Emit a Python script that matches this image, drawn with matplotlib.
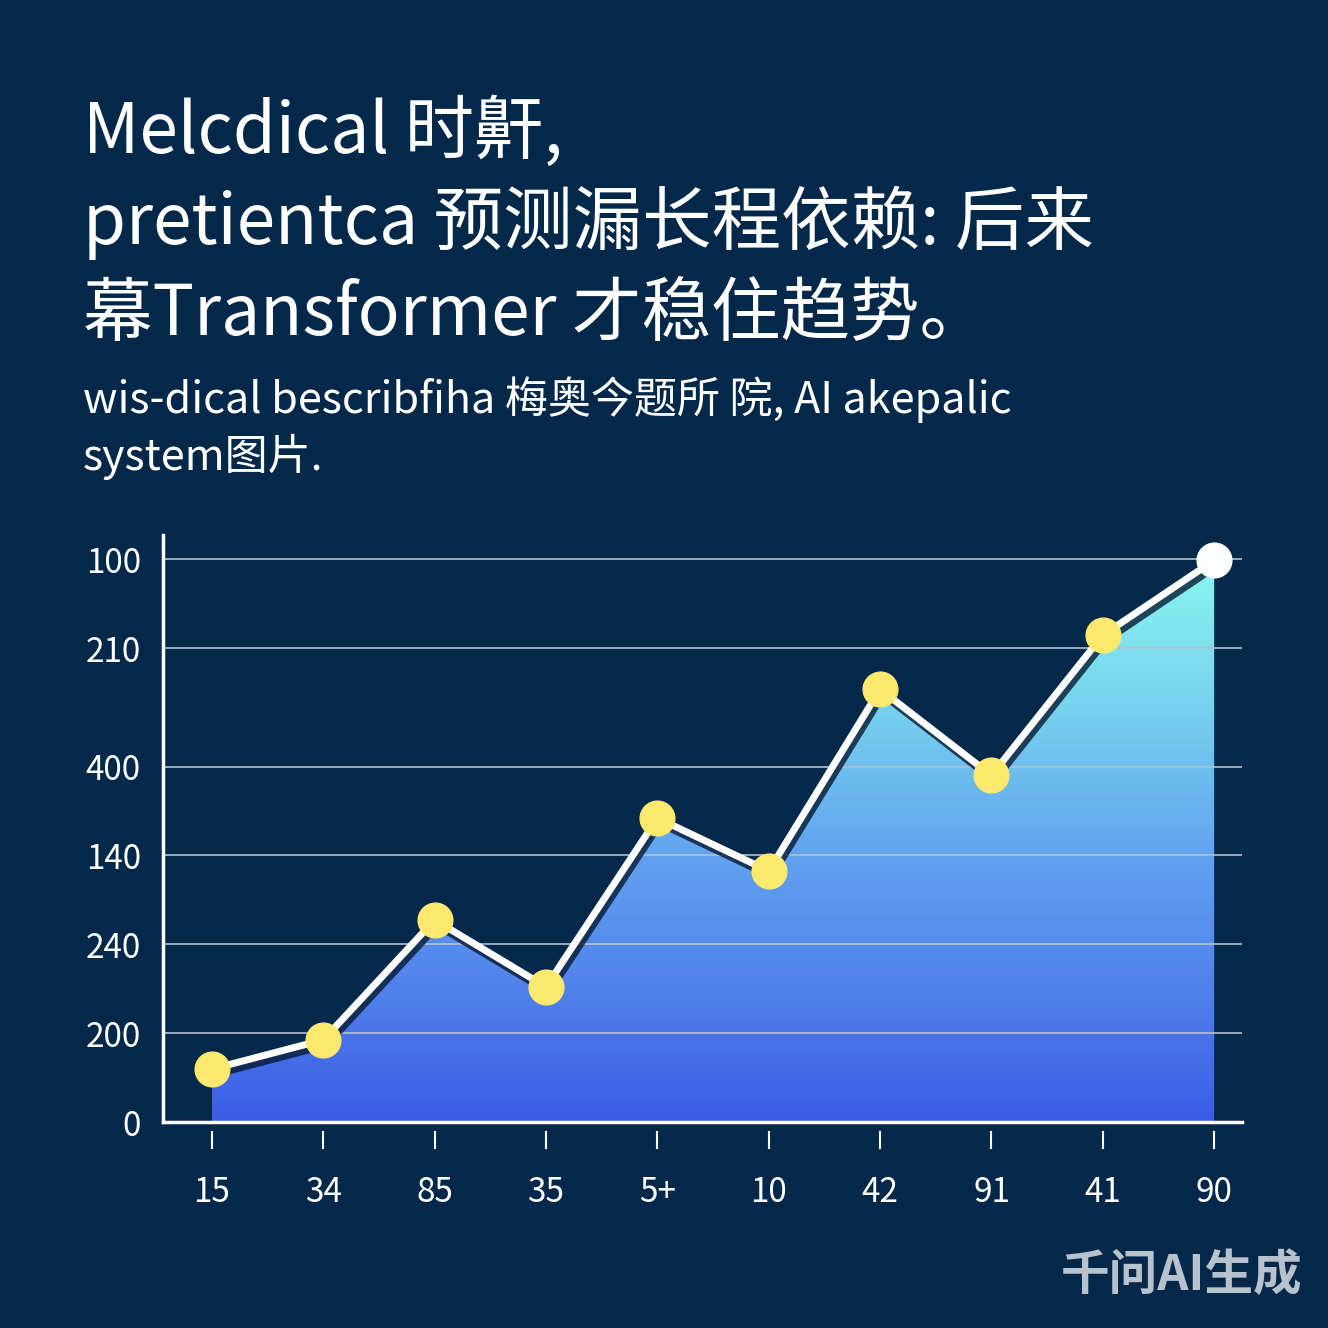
import numpy as np
import matplotlib.pyplot as plt
from matplotlib.colors import LinearSegmentedColormap
from matplotlib.path import Path
from matplotlib.patches import PathPatch
import matplotlib.patheffects as pe

plt.rcParams['font.family'] = ['Noto Sans CJK SC', 'DejaVu Sans']

# data
x_labels = ["15", "34", "85", "35", "5+", "10", "42", "91", "41", "90"]
values = [9.4, 14.6, 35.9, 24.0, 54.0, 44.6, 76.9, 61.6, 86.5, 99.8]
y_tick_pos = [0, 15.8, 31.6, 47.4, 63.1, 84.2, 100]
y_tick_labels = ["0", "200", "240", "140", "400", "210", "100"]

title_lines = ["Melcdical 时鼾,",
               "pretientca 预测漏长程依赖: 后来",
               "幕Transformer 才稳住趋势。"]
subtitle_lines = ["wis-dical bescribfiha 梅奥今题所 院, AI akepalic",
                  "system图片."]

bg = "#03284a"
fig = plt.figure(figsize=(13.28, 13.28), dpi=100, facecolor=bg)

for i, line in enumerate(title_lines):
    fig.text(83 / 1328, 1 - (153 + i * 91) / 1328, line, color="white",
             fontsize=50, va="baseline", ha="left")
for i, line in enumerate(subtitle_lines):
    fig.text(83 / 1328, 1 - (413 + i * 57) / 1328, line, color="white",
             fontsize=31, va="baseline", ha="left")

ax = fig.add_axes([163 / 1328, 1 - 1122 / 1328, (1242 - 163) / 1328, (1122 - 535) / 1328])
ax.set_facecolor(bg)
x = np.arange(len(values))
ax.set_xlim(-0.44, 9.25)
ax.set_ylim(0, 104.3)

# gradient fill under the line
cmap = LinearSegmentedColormap.from_list("fill", [
    (0.0, "#3a5ce6"), (0.22, "#4f80ea"), (0.45, "#609ff0"),
    (0.75, "#78d4ee"), (1.0, "#8af7f0")])
grad = np.linspace(0, 1, 256).reshape(-1, 1)
img = ax.imshow(grad, cmap=cmap, origin="lower", aspect="auto",
                extent=[x[0], x[-1], 0, 100], zorder=1)
verts = [(x[0], 0)] + list(zip(x, values)) + [(x[-1], 0), (x[0], 0)]
codes = [Path.MOVETO] + [Path.LINETO] * (len(verts) - 2) + [Path.CLOSEPOLY]
clip = PathPatch(Path(verts, codes), transform=ax.transData, facecolor="none", edgecolor="none")
ax.add_patch(clip)
img.set_clip_path(clip)

# grid
ax.set_yticks(y_tick_pos)
ax.set_yticklabels(y_tick_labels)
ax.set_axisbelow(False)
ax.yaxis.grid(True, color="#b4c0ce", linewidth=1.2)
ax.tick_params(axis="y", length=0, pad=16, labelsize=24, labelcolor="white")

# line and markers
ax.plot(x, values, color="white", linewidth=5, zorder=4, solid_capstyle="round",
        path_effects=[pe.SimpleLineShadow(offset=(2, -4), shadow_color="#061a33", alpha=0.8),
                      pe.Normal()])
ax.plot(x[:-1], values[:-1], "o", color="#fde96e", markersize=25, zorder=5)
ax.plot(x[-1], values[-1], "o", color="white", markersize=25, zorder=5, clip_on=False)

# axes spines
for s in ["top", "right"]:
    ax.spines[s].set_visible(False)
ax.spines["left"].set_color("white")
ax.spines["left"].set_linewidth(2.5)
ax.spines["bottom"].set_color("white")
ax.spines["bottom"].set_linewidth(2.5)
ax.spines["left"].set_zorder(6)
ax.spines["bottom"].set_zorder(6)

# detached x ticks
ax.set_xticks(x)
ax.set_xticklabels(x_labels)
ax.tick_params(axis="x", length=0, pad=38, labelsize=24, labelcolor="white")
tr = ax.get_xaxis_transform()
for xi in x:
    ax.plot([xi, xi], [-0.017, -0.044], color="white", linewidth=1.5,
            transform=tr, clip_on=False)

fig.text(1182 / 1328, 1 - 1276 / 1328, "千问AI生成", color="#b7c2cc",
         fontsize=35, fontweight="bold", ha="center", va="center")

fig.savefig("out.png", dpi=100, facecolor=bg)
